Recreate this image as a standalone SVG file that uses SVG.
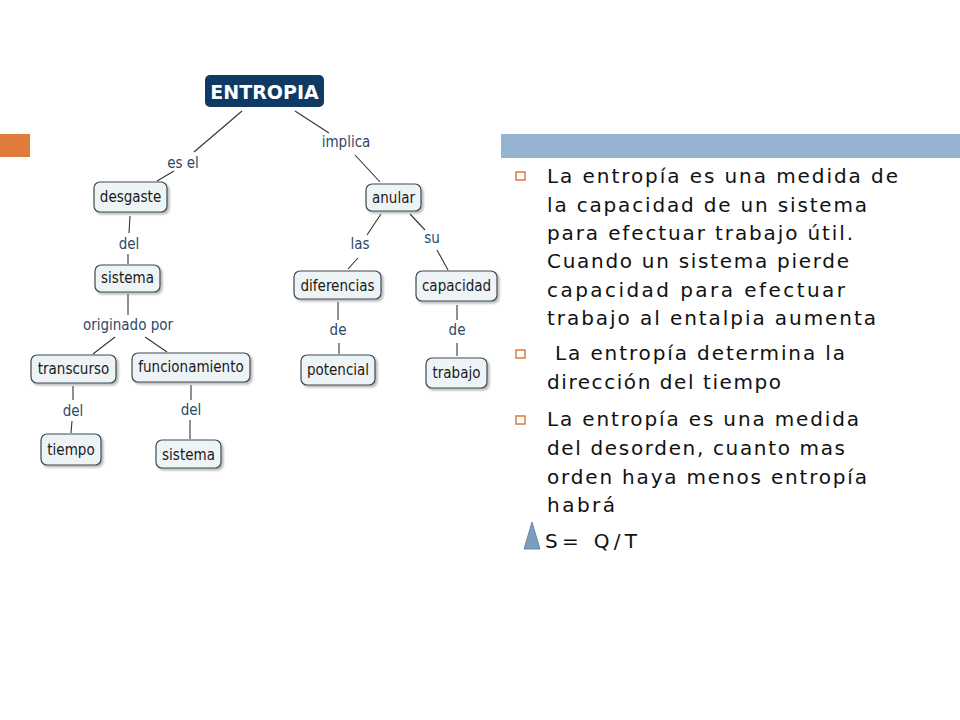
<svg xmlns="http://www.w3.org/2000/svg" width="960" height="720" viewBox="0 0 960 720">
<style>
.n rect{fill:#eef3f6;stroke:#3a4a55;stroke-width:1.2;filter:url(#sh)}
.n text,.lb{font-family:"DejaVu Sans Condensed","DejaVu Sans",sans-serif;font-size:15px;text-anchor:middle}
.n text{fill:#1a1a1a}
.lb{fill:#2c4a66}
.c line{stroke:#333;stroke-width:1.1}
.t{font-family:"DejaVu Sans",sans-serif;font-size:20px;fill:#111}
.b{fill:none;stroke:#e07a3a;stroke-width:1.5}
</style>
<defs><filter id="sh" x="-10%" y="-20%" width="130%" height="150%"><feDropShadow dx="2" dy="2" stdDeviation="1" flood-color="#888" flood-opacity="0.6"/></filter></defs>
<rect width="960" height="720" fill="#fff"/>
<rect x="0" y="134" width="30" height="23" fill="#e07b3c"/>
<rect x="501" y="134" width="459" height="24" fill="#94b4d2"/>
<g class="c">
<line x1="242" y1="111" x2="194" y2="152"/><line x1="174" y1="171" x2="157" y2="181"/>
<line x1="295" y1="111" x2="329" y2="133"/><line x1="355" y1="155" x2="380" y2="182"/>
<line x1="130" y1="216" x2="129" y2="233"/><line x1="128" y1="254" x2="128" y2="264"/>
<line x1="128" y1="294" x2="128" y2="315"/>
<line x1="115" y1="337" x2="93" y2="354"/><line x1="145" y1="337" x2="167" y2="352"/>
<line x1="73" y1="386" x2="73" y2="400"/><line x1="72" y1="421" x2="71" y2="433"/>
<line x1="191" y1="385" x2="191" y2="400"/><line x1="190" y1="420" x2="190" y2="439"/>
<line x1="381" y1="214" x2="367" y2="235"/><line x1="358" y1="258" x2="348" y2="269"/>
<line x1="410" y1="214" x2="425" y2="230"/><line x1="437" y1="250" x2="448" y2="270"/>
<line x1="338" y1="302" x2="338" y2="320"/><line x1="339" y1="343" x2="339" y2="354"/>
<line x1="457" y1="305" x2="457" y2="320"/><line x1="457" y1="343" x2="457" y2="356"/>
</g>
<g class="lb">
<text x="183" y="168" class="lb">es el</text>
<text x="346" y="147" class="lb">implica</text>
<text x="129" y="249" class="lb">del</text>
<text x="128" y="330" class="lb">originado por</text>
<text x="360" y="249" class="lb">las</text>
<text x="432" y="243" class="lb">su</text>
<text x="338" y="335" class="lb">de</text>
<text x="457" y="335" class="lb">de</text>
<text x="73" y="416" class="lb">del</text>
<text x="191" y="415" class="lb">del</text>
</g>
<g id="entropia"><rect x="205" y="75" width="119" height="32" rx="5" fill="#0e3a63"/><text x="264.5" y="99" font-family="DejaVu Sans,sans-serif" font-weight="bold" font-size="19" fill="#fff" text-anchor="middle">ENTROPIA</text></g>
<g id="desgaste" class="n"><rect x="94" y="182" width="73" height="30" rx="6"/><text x="130.5" y="202">desgaste</text></g>
<g id="sistema1" class="n"><rect x="95" y="265" width="65" height="27" rx="6"/><text x="127.5" y="283">sistema</text></g>
<g id="transcurso" class="n"><rect x="31" y="355" width="85" height="28" rx="6"/><text x="73.5" y="374">transcurso</text></g>
<g id="funcionamiento" class="n"><rect x="132" y="353" width="118" height="29" rx="6"/><text x="191" y="372">funcionamiento</text></g>
<g id="tiempo" class="n"><rect x="41" y="434" width="60" height="31" rx="6"/><text x="71" y="455">tiempo</text></g>
<g id="sistema2" class="n"><rect x="156" y="440" width="65" height="28" rx="6"/><text x="188.5" y="460">sistema</text></g>
<g id="anular" class="n"><rect x="366" y="184" width="55" height="27" rx="6"/><text x="393.5" y="203">anular</text></g>
<g id="diferencias" class="n"><rect x="294" y="271" width="87" height="28" rx="6"/><text x="337.5" y="291">diferencias</text></g>
<g id="capacidad" class="n"><rect x="416" y="271" width="81" height="30" rx="6"/><text x="456.5" y="291">capacidad</text></g>
<g id="potencial" class="n"><rect x="301" y="355" width="74" height="30" rx="6"/><text x="338" y="375">potencial</text></g>
<g id="trabajo" class="n"><rect x="426" y="358" width="61" height="30" rx="6"/><text x="456.5" y="378">trabajo</text></g>
<g>
<rect class="b" x="516" y="172" width="9" height="8"/>
<rect class="b" x="516" y="350" width="9" height="8"/>
<rect class="b" x="516" y="416" width="9" height="8"/>
<text class="t" x="547" y="183" textLength="351">La entropía es una medida de</text>
<text class="t" x="547" y="212" textLength="320">la capacidad de un sistema</text>
<text class="t" x="547" y="240" textLength="306">para efectuar trabajo útil.</text>
<text class="t" x="547" y="268" textLength="302">Cuando un sistema pierde</text>
<text class="t" x="547" y="297" textLength="298">capacidad para efectuar</text>
<text class="t" x="547" y="325" textLength="329">trabajo al entalpia aumenta</text>
<text class="t" x="555" y="360" textLength="290">La entropía determina la</text>
<text class="t" x="547" y="389" textLength="234">dirección del tiempo</text>
<text class="t" x="547" y="426" textLength="312">La entropía es una medida</text>
<text class="t" x="547" y="455" textLength="298">del desorden, cuanto mas</text>
<text class="t" x="547" y="484" textLength="320">orden haya menos entropía</text>
<text class="t" x="547" y="512" textLength="68">habrá</text>
<polygon points="532,522 524,549 540,549" fill="#7d9dbf" stroke="#5a7a9c" stroke-width="0.8"/>
<text class="t" x="545" y="548" textLength="92">S= Q/T</text>
</g>
</svg>
